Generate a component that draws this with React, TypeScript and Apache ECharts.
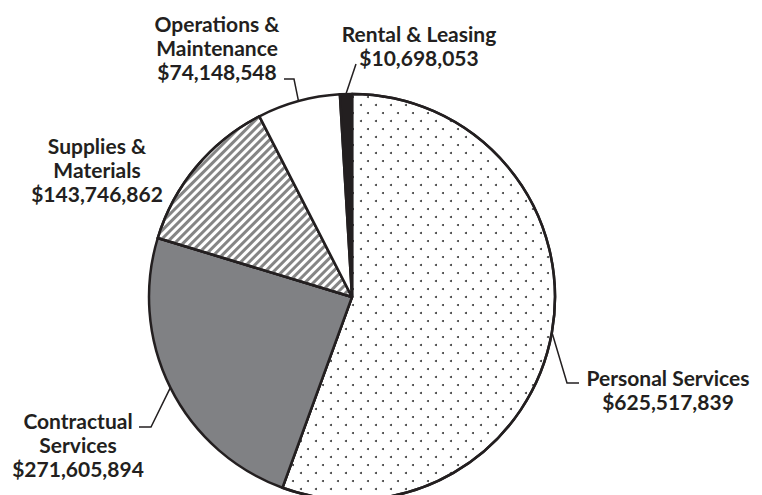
import React, { useEffect, useRef } from 'react';
import * as echarts from 'echarts';

// ---- data ----
const categories = [
  'Personal Services',
  'Contractual\nServices',
  'Supplies &\nMaterials',
  'Operations &\nMaintenance',
  'Rental & Leasing',
];
const amounts = [625517839, 271605894, 143746862, 74148548, 10698053];

// ---- styling / layout (not data) ----
const sliceColors = ['#ffffff', '#808184', '#ffffff', '#ffffff', '#231f20'];
const INK = '#231f20';

// label anchors (centre x, top y) and leader-line elbow/end points
const labelPlacement: { x: number; y: number; line: number[][] | null }[] = [
  { x: 668, y: 365, line: [[567, 383], [579, 383]] },
  { x: 78, y: 408, line: [[151, 427], [139, 427]] },
  { x: 97, y: 133, line: null },
  { x: 217, y: 11, line: [[294, 79], [284, 79]] },
  { x: 419, y: 21, line: [[356, 64], [356, 64]] },
];

const dotDecal = {
  symbol: 'circle',
  symbolSize: 1,
  color: '#3a3a3a',
  backgroundColor: '#ffffff',
  dashArrayX: [[2, 13], [0, 7, 2, 6]],
  dashArrayY: [2, 6],
  rotation: 0,
};

const hatchDecal = {
  symbol: 'rect',
  symbolSize: 1,
  color: '#858585',
  backgroundColor: '#ffffff',
  dashArrayX: [10, 0],
  dashArrayY: [3, 3],
  rotation: -Math.PI / 4,
};

const decals: any[] = [dotDecal, null, hatchDecal, null, null];

function fmtMoney(v: number): string {
  return '$' + v.toLocaleString('en-US');
}

export default function App() {
  const ref = useRef<HTMLDivElement>(null);

  useEffect(() => {
    if (!ref.current) return;
    const chart = echarts.init(ref.current, null, { renderer: 'svg' });

    const data = categories.map((name, i) => {
      const item: any = {
        name,
        value: amounts[i],
        itemStyle: { color: sliceColors[i] },
      };
      if (decals[i]) item.itemStyle.decal = decals[i];
      if (!labelPlacement[i].line) item.labelLine = { show: false };
      return item;
    });

    chart.setOption({
      animation: false,
      series: [
        {
          type: 'pie',
          center: [352, 297],
          radius: 203,
          startAngle: 90,
          clockwise: true,
          avoidLabelOverlap: false,
          emphasis: { disabled: true },
          itemStyle: { borderColor: INK, borderWidth: 2.5 },
          label: {
            show: true,
            position: 'outside',
            formatter: (p: any) => `${p.name}\n${fmtMoney(p.value)}`,
            fontFamily: 'Lato',
            fontWeight: 'bold',
            fontSize: 21,
            lineHeight: 24,
            color: INK,
            align: 'center',
          },
          labelLine: {
            show: true,
            length: 10,
            length2: 10,
            lineStyle: { color: INK, width: 1.5 },
          },
          labelLayout: (params: any) => {
            const L = labelPlacement[params.dataIndex];
            const res: any = { x: L.x, y: L.y, align: 'center', verticalAlign: 'top' };
            const p0 = params.labelLinePoints ? params.labelLinePoints[0] : null;
            if (L.line && p0) res.labelLinePoints = [p0, L.line[0], L.line[1]];
            return res;
          },
          data,
        },
      ],
    });

    return () => chart.dispose();
  }, []);

  return (
    <div
      ref={ref}
      style={{ position: 'fixed', left: 0, top: 0, width: 762, height: 495, background: '#fff' }}
    />
  );
}
